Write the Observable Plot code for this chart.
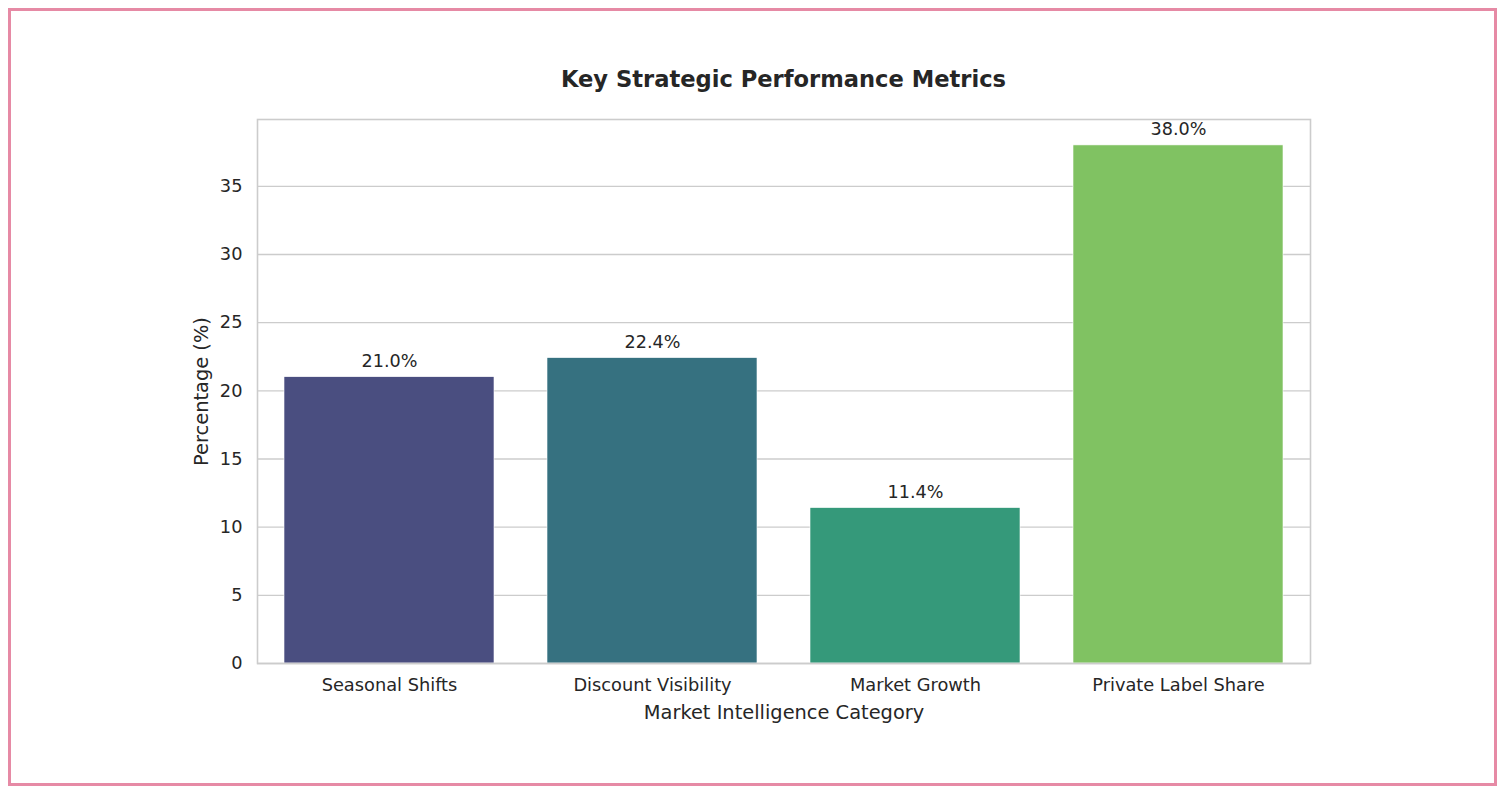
<!DOCTYPE html>
<html>
<head>
<meta charset="utf-8">
<script src="https://cdn.jsdelivr.net/npm/d3@7"></script>
<script src="https://cdn.jsdelivr.net/npm/@observablehq/plot@0.6"></script>
<style>
  html, body { margin: 0; padding: 0; background: #fff; }
  body { width: 1503px; height: 793px; position: relative; overflow: hidden; font-family: "DejaVu Sans", sans-serif; }
  #frame { position: absolute; left: 8px; top: 8px; width: 1483px; height: 772px; border: 3px solid #e68aa5; }
  #title { position: absolute; left: 257px; width: 1053px; top: 66px; text-align: center; font-weight: bold; font-size: 22.6px; color: #262626; line-height: 26px; }
  #chart { position: absolute; left: 0; top: 0; }
  #chart svg { background: transparent; }
</style>
</head>
<body>
<div id="frame"></div>
<div id="title">Key Strategic Performance Metrics</div>
<div id="chart"></div>
<script>
const categories = ["Seasonal Shifts", "Discount Visibility", "Market Growth", "Private Label Share"];
const values = [21.0, 22.4, 11.4, 38.0];
const colors = ["#4a4e80", "#367180", "#35997a", "#80c262"];
const yTicks = [0, 5, 10, 15, 20, 25, 30, 35];

const data = categories.map((c, i) => ({category: c, value: values[i], color: colors[i]}));

const chart = Plot.plot({
  width: 1503,
  height: 793,
  marginLeft: 257,
  marginRight: 193,
  marginTop: 119,
  marginBottom: 130,
  style: {fontFamily: "DejaVu Sans, sans-serif", fontSize: "17.8px", color: "#262626", background: "transparent"},
  x: {type: "band", domain: categories, paddingInner: 0.2, paddingOuter: 0.1, label: null},
  y: {domain: [0, 39.9], label: null},
  marks: [
    Plot.gridY(yTicks, {stroke: "#cccccc", strokeOpacity: 1, strokeWidth: 1.3}),
    Plot.barY(data, {x: "category", y: "value", fill: "color", stroke: "white", strokeWidth: 0.6}),
    Plot.text(data, {x: "category", y: "value", text: d => d.value.toFixed(1) + "%", dy: -16, fontSize: 17.6, fill: "#262626"}),
    Plot.axisY(yTicks, {tickSize: 0, tickPadding: 15, fontSize: 17.8, label: null}),
    Plot.axisX({tickSize: 0, tickPadding: 15, fontSize: 17.8, label: null}),
    Plot.frame({stroke: "#cccccc", strokeWidth: 1.6}),
    Plot.text(["Market Intelligence Category"], {frameAnchor: "bottom", dy: 49, fontSize: 19.4, fill: "#262626", lineAnchor: "middle"}),
    Plot.text(["Percentage (%)"], {frameAnchor: "left", dx: -56, rotate: -90, textAnchor: "middle", fontSize: 19.4, fill: "#262626"})
  ]
});
document.getElementById("chart").appendChild(chart);
</script>
</body>
</html>
